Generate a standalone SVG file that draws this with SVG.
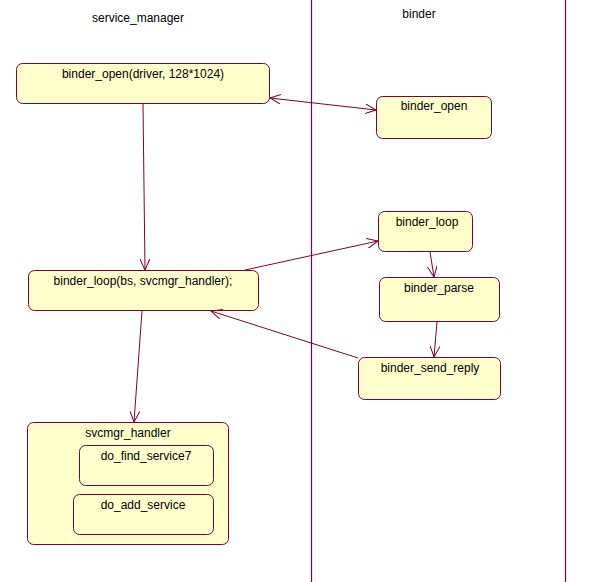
<svg xmlns="http://www.w3.org/2000/svg" width="589" height="582" viewBox="0 0 589 582">
<style>
.n{fill:#ffffcc;stroke:#800033;stroke-width:1}
.t{font-family:"Liberation Sans",Arial,sans-serif;font-size:12px;fill:#000;text-anchor:middle}
.c{stroke:#800033;stroke-width:1;fill:none}
.lane{stroke:#800040;stroke-width:1.2}
</style>
<defs>
<marker id="a" viewBox="0 0 12 10" refX="11" refY="5" markerWidth="12" markerHeight="10" markerUnits="userSpaceOnUse" orient="auto-start-reverse">
<path d="M0,0 L11,5 L0,10" fill="none" stroke="#800033" stroke-width="1"/>
</marker>
</defs>
<rect width="589" height="582" fill="#fff"/>
<line class="lane" x1="311.5" y1="0" x2="311.5" y2="582"/>
<line class="lane" x1="565.5" y1="0" x2="565.5" y2="582"/>
<text class="t" x="138" y="22">service_manager</text>
<text class="t" x="419" y="18">binder</text>
<g id="sm_open"><rect class="n" x="16.5" y="63.5" width="253" height="40" rx="6"/><text class="t" x="143" y="78">binder_open(driver, 128*1024)</text></g>
<g id="b_open"><rect class="n" x="376.5" y="96.5" width="115" height="42" rx="6"/><text class="t" x="434" y="110">binder_open</text></g>
<g id="b_loop"><rect class="n" x="378.5" y="211.5" width="94" height="40" rx="6"/><text class="t" x="427" y="226">binder_loop</text></g>
<g id="b_parse"><rect class="n" x="379.5" y="277.5" width="120" height="44" rx="6"/><text class="t" x="439" y="292">binder_parse</text></g>
<g id="b_reply"><rect class="n" x="358.5" y="357.5" width="142" height="42" rx="6"/><text class="t" x="430" y="372">binder_send_reply</text></g>
<g id="sm_loop"><rect class="n" x="28.5" y="270.5" width="230" height="40" rx="6"/><text class="t" x="143" y="285">binder_loop(bs, svcmgr_handler);</text></g>
<g id="svcmgr"><rect class="n" x="27.5" y="422.5" width="201" height="122" rx="6"/><text class="t" x="128" y="437">svcmgr_handler</text>
<g id="find"><rect class="n" x="79.5" y="445.5" width="134" height="40" rx="6"/><text class="t" x="146" y="460">do_find_service7</text></g>
<g id="add"><rect class="n" x="73.5" y="494.5" width="140" height="40" rx="6"/><text class="t" x="143" y="509">do_add_service</text></g>
</g>
<g id="connectors">
<line class="c" x1="270" y1="98" x2="376" y2="110" marker-start="url(#a)" marker-end="url(#a)"/>
<line class="c" x1="143" y1="104" x2="145" y2="270" marker-end="url(#a)"/>
<line class="c" x1="245" y1="270" x2="378" y2="241" marker-end="url(#a)"/>
<line class="c" x1="430" y1="252" x2="434" y2="277" marker-end="url(#a)"/>
<line class="c" x1="437" y1="322" x2="434" y2="357" marker-end="url(#a)"/>
<line class="c" x1="358" y1="358" x2="211" y2="311" marker-end="url(#a)"/>
<line class="c" x1="142" y1="311" x2="134" y2="422" marker-end="url(#a)"/>
</g>
</svg>
